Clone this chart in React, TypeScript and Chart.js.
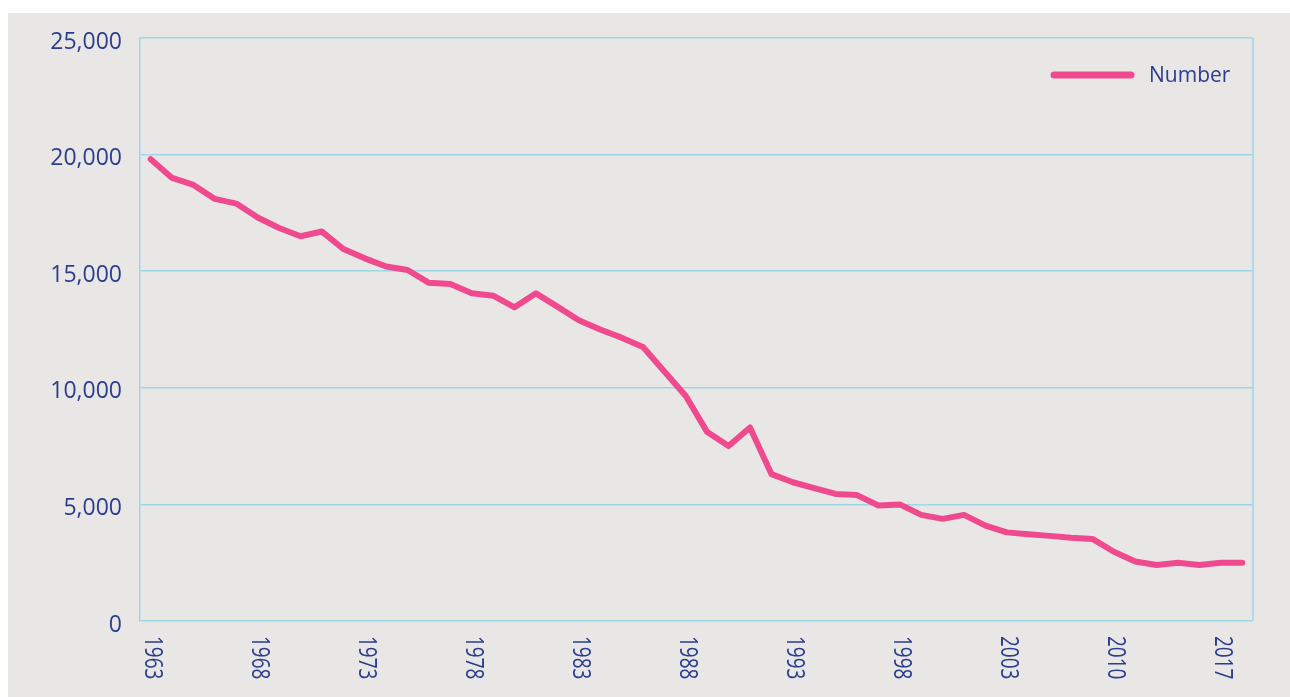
import React, { useEffect, useRef } from "react";
import { Chart, registerables } from "chart.js";

Chart.register(...registerables);

const years: string[] = [
  "1963", "1964", "1965", "1966", "1967", "1968", "1969", "1970", "1971", "1972",
  "1973", "1974", "1975", "1976", "1977", "1978", "1979", "1980", "1981", "1982",
  "1983", "1984", "1985", "1986", "1987", "1988", "1989", "1990", "1991", "1992",
  "1993", "1994", "1995", "1996", "1997", "1998", "1999", "2000", "2001", "2002",
  "2003", "2004", "2006", "2007", "2009", "2010", "2011", "2013", "2014", "2016",
  "2017", "2018",
];

const numberValues: number[] = [
  19800, 19000, 18700, 18100, 17900, 17300, 16850, 16500, 16700, 15950,
  15550, 15200, 15050, 14500, 14450, 14050, 13950, 13450, 14050, 13480,
  12900, 12500, 12150, 11750, 10700, 9650, 8100, 7500, 8300, 6300,
  5950, 5700, 5450, 5400, 4950, 5000, 4550, 4380, 4550, 4090,
  3800, 3720, 3650, 3570, 3520, 2970, 2550, 2400, 2500, 2400,
  2500, 2500,
];

const seriesName = "Number";
const yTicks: number[] = [0, 5000, 10000, 15000, 20000, 25000];
const tickEvery = 5;

const TEXT = "#2b3d8d";
const PINK = "#f04a8e";
const GRID = "#9dd7e8";
const BG = "#e9e7e5";
const FONT = "'Open Sans', sans-serif";

const decorPlugin = {
  id: "decor",
  beforeDatasetsDraw(chart: any) {
    const { ctx, chartArea } = chart;
    ctx.save();
    ctx.strokeStyle = GRID;
    ctx.lineWidth = 1.5;
    ctx.beginPath();
    ctx.moveTo(chartArea.right, chartArea.top);
    ctx.lineTo(chartArea.right, chartArea.bottom);
    ctx.stroke();
    ctx.restore();
  },
  afterDraw(chart: any) {
    const { ctx, chartArea } = chart;
    const xs = chart.scales.x;
    ctx.save();
    // x labels, rotated clockwise (reading top to bottom)
    ctx.fillStyle = TEXT;
    ctx.font = `19px ${FONT}`;
    ctx.textAlign = "left";
    ctx.textBaseline = "middle";
    years.forEach((lab, i) => {
      if (i % tickEvery !== 0) return;
      const x = xs.getPixelForValue(i);
      ctx.save();
      ctx.translate(x + 1, chartArea.bottom + 15);
      ctx.rotate(Math.PI / 2);
      ctx.scale(1, 1.3);
      ctx.fillText(lab, 0, 0);
      ctx.restore();
    });
    // legend inside chart area
    const ly = chartArea.top + 37;
    ctx.strokeStyle = PINK;
    ctx.lineWidth = 7;
    ctx.lineCap = "round";
    ctx.beginPath();
    ctx.moveTo(chartArea.right - 199, ly);
    ctx.lineTo(chartArea.right - 122, ly);
    ctx.stroke();
    ctx.fillStyle = TEXT;
    ctx.font = `21px ${FONT}`;
    ctx.textAlign = "left";
    ctx.textBaseline = "middle";
    ctx.fillText(seriesName, chartArea.right - 104, ly + 1);
    ctx.restore();
  },
};

export default function App() {
  const ref = useRef<HTMLCanvasElement | null>(null);

  useEffect(() => {
    if (!ref.current) return;
    const chart = new Chart(ref.current, {
      type: "line",
      data: {
        labels: years,
        datasets: [
          {
            label: seriesName,
            data: numberValues,
            borderColor: PINK,
            backgroundColor: PINK,
            borderWidth: 6,
            pointRadius: 0,
            tension: 0,
            fill: false,
            borderCapStyle: "round",
            borderJoinStyle: "round",
          },
        ],
      },
      options: {
        animation: false,
        responsive: false,
        devicePixelRatio: 1,
        layout: { padding: { left: 0, top: 25, right: 37, bottom: 0 } },
        plugins: {
          legend: { display: false },
          tooltip: { enabled: false },
        },
        scales: {
          x: {
            type: "category",
            offset: true,
            grid: { display: false },
            border: { display: false },
            ticks: { display: false },
            afterFit: (s: any) => {
              s.height = 76;
              s.paddingLeft = 0;
              s.paddingRight = 0;
            },
          },
          y: {
            min: 0,
            max: 25000,
            afterBuildTicks: (s: any) => {
              s.ticks = yTicks.map((v) => ({ value: v }));
            },
            ticks: {
              color: TEXT,
              font: { family: FONT, size: 23 },
              padding: 18,
              labelOffset: 4,
              callback: (v: any) => Number(v).toLocaleString("en-US"),
            },
            grid: { color: GRID, lineWidth: 1.5, drawTicks: false },
            border: { display: true, color: GRID, width: 1.5 },
            afterFit: (s: any) => {
              s.width = 132;
              s.paddingTop = 0;
              s.paddingBottom = 0;
            },
          },
        },
      },
      plugins: [decorPlugin],
    } as any);
    return () => chart.destroy();
  }, []);

  return (
    <div
      style={{
        position: "absolute",
        left: 8,
        top: 13,
        width: 1282,
        height: 684,
        background: BG,
      }}
    >
      <canvas ref={ref} width={1282} height={684} style={{ display: "block" }} />
    </div>
  );
}
